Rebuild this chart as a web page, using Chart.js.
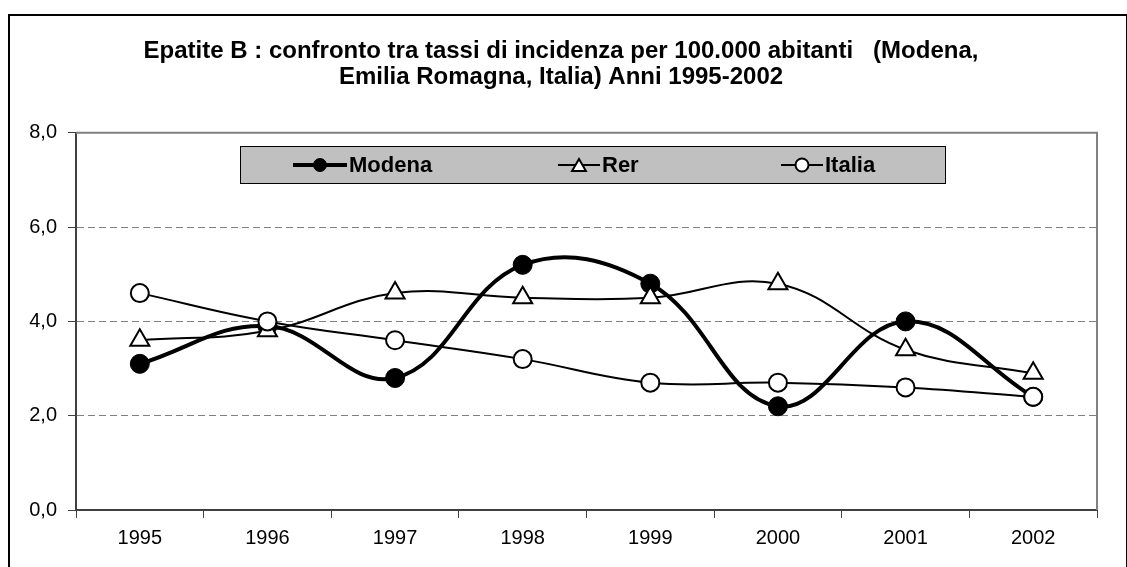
<!DOCTYPE html>
<html>
<head>
<meta charset="utf-8">
<script src="https://cdn.jsdelivr.net/npm/chart.js@4/dist/chart.umd.min.js"></script>
<style>
html, body { margin: 0; padding: 0; background: #ffffff; }
#box { width: 1127px; height: 567px; }
</style>
</head>
<body>
<div id="box"><canvas id="epatite"></canvas></div>
<script>
const anni = ['1995', '1996', '1997', '1998', '1999', '2000', '2001', '2002'];
const modena = [3.1, 3.9, 2.8, 5.2, 4.8, 2.2, 4.0, 2.4];
const rer = [3.6, 3.8, 4.6, 4.5, 4.5, 4.8, 3.4, 2.9];
const italia = [4.6, 4.0, 3.6, 3.2, 2.7, 2.7, 2.6, 2.4];
const titolo = ['Epatite B : confronto tra tassi di incidenza per 100.000 abitanti   (Modena,', 'Emilia Romagna, Italia) Anni 1995-2002'];

const font = 'Arial, "Liberation Sans", sans-serif';

// cornice nera esterna + bordo grigio dell'area del grafico
const cornice = {
    id: 'cornice',
    beforeDraw(chart) {
        const c = chart.ctx;
        c.save();
        c.fillStyle = '#ffffff';
        c.fillRect(0, 0, chart.width, chart.height);
        c.strokeStyle = '#000000';
        c.lineWidth = 2;
        c.strokeRect(9, 15, chart.width - 9, chart.height + 10);
        c.restore();
    },
    afterDatasetsDraw(chart) {
        const a = chart.chartArea;
        const c = chart.ctx;
        c.save();
        c.strokeStyle = '#808080';
        c.lineWidth = 2;
        c.beginPath();
        c.moveTo(a.left, a.top);
        c.lineTo(a.right, a.top);
        c.lineTo(a.right, a.bottom);
        c.stroke();
        c.restore();
    }
};

// legenda dentro l'area del grafico, come nell'originale
const legenda = {
    id: 'legenda',
    afterDraw(chart) {
        const c = chart.ctx;
        c.save();
        c.fillStyle = '#c0c0c0';
        c.fillRect(240, 146, 705, 37);
        c.strokeStyle = '#000000';
        c.lineWidth = 1;
        c.strokeRect(240.5, 146.5, 705, 37);
        const posX = [293, 558, 781];
        const lung = [54, 42, 42];
        const y = 165;
        chart.data.datasets.forEach((ds, i) => {
            const x = posX[i];
            c.strokeStyle = '#000000';
            c.lineWidth = ds.borderWidth;
            c.beginPath();
            c.moveTo(x, y);
            c.lineTo(x + lung[i], y);
            c.stroke();
            c.fillStyle = ds.pointBackgroundColor;
            c.strokeStyle = '#000000';
            c.lineWidth = ds.pointBorderWidth;
            c.beginPath();
            if (ds.pointStyle === 'triangle') {
                const r = 8, cx = x + lung[i] / 2, cy = y + 2;
                c.moveTo(cx, cy - r);
                c.lineTo(cx + r * 0.866, cy + r / 2);
                c.lineTo(cx - r * 0.866, cy + r / 2);
                c.closePath();
            } else {
                c.arc(x + lung[i] / 2, y, 6.5, 0, Math.PI * 2);
            }
            c.fill();
            c.stroke();
            c.fillStyle = '#000000';
            c.font = 'bold 22px ' + font;
            c.textBaseline = 'middle';
            c.textAlign = 'left';
            c.fillText(ds.label, x + lung[i] + 2, y + 1);
        });
        c.restore();
    }
};

const ctx = document.getElementById('epatite').getContext('2d');
const graf = new Chart(ctx, {
    type: 'line',
    data: {
        labels: anni,
        datasets: [{
            label: 'Modena',
            data: modena,
            borderColor: '#000000',
            borderWidth: 4,
            pointStyle: 'circle',
            pointRadius: 9.5,
            pointBackgroundColor: '#000000',
            pointBorderColor: '#000000',
            pointBorderWidth: 1,
            tension: 0.4,
            order: 3
        }, {
            label: 'Rer',
            data: rer,
            borderColor: '#000000',
            borderWidth: 2,
            pointStyle: 'triangle',
            pointRadius: 11,
            pointBackgroundColor: '#ffffff',
            pointBorderColor: '#000000',
            pointBorderWidth: 2,
            tension: 0.4,
            order: 2
        }, {
            label: 'Italia',
            data: italia,
            borderColor: '#000000',
            borderWidth: 2,
            pointStyle: 'circle',
            pointRadius: 9,
            pointBackgroundColor: '#ffffff',
            pointBorderColor: '#000000',
            pointBorderWidth: 2,
            tension: 0.4,
            order: 1
        }]
    },
    options: {
        responsive: true,
        maintainAspectRatio: false,
        animation: false,
        layout: { padding: { left: 25, right: 30, top: 0, bottom: 9 } },
        plugins: {
            legend: { display: false },
            tooltip: { enabled: false },
            title: {
                display: true,
                text: titolo,
                color: '#000000',
                font: { family: font, size: 24, weight: 'bold', lineHeight: 1.1 },
                padding: { top: 38, bottom: 42 }
            }
        },
        scales: {
            x: {
                offset: true,
                grid: {
                    offset: true,
                    drawOnChartArea: false,
                    drawTicks: true,
                    tickLength: 8,
                    tickColor: '#404040',
                    tickWidth: 1
                },
                border: { color: '#404040', width: 2 },
                ticks: {
                    color: '#000000',
                    padding: 8,
                    maxRotation: 0,
                    font: { family: font, size: 20 }
                }
            },
            y: {
                min: 0,
                max: 8,
                afterFit(scale) { scale.width = 51; },
                grid: {
                    color: (c) => (c.tick.value === 0 || c.tick.value === 8) ? 'rgba(0,0,0,0)' : '#808080',
                    lineWidth: 1,
                    tickLength: 8,
                    tickColor: '#404040',
                    tickBorderDash: []
                },
                border: { color: '#404040', width: 2, dash: [7, 4] },
                ticks: {
                    stepSize: 2,
                    color: '#000000',
                    padding: 11,
                    font: { family: font, size: 20 },
                    callback: (v) => v.toFixed(1).replace('.', ',')
                }
            }
        }
    },
    plugins: [cornice, legenda]
});
</script>
</body>
</html>
